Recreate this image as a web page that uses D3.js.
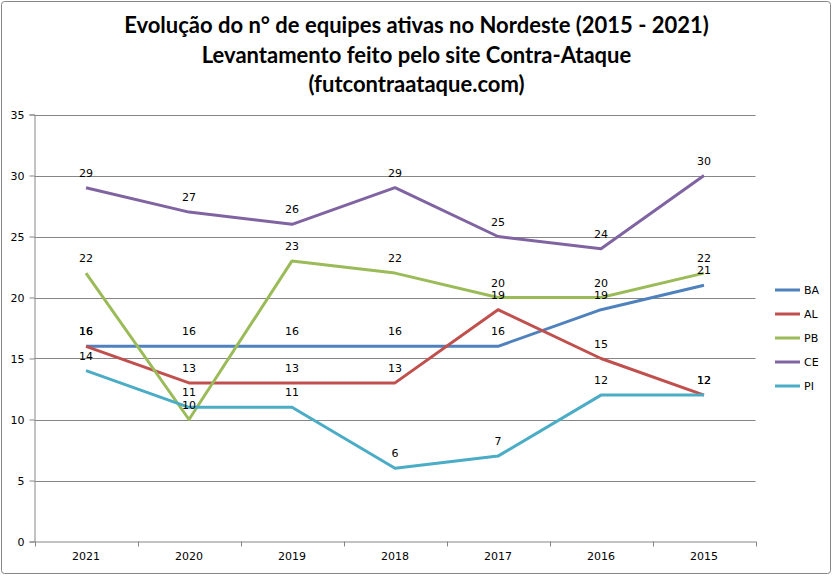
<!DOCTYPE html>
<html><head><meta charset="utf-8">
<script src="https://cdn.jsdelivr.net/npm/d3@7"></script>
<style>body{margin:0;background:#fff}svg{display:block}</style>
</head><body>
<svg id="c" width="833" height="576"></svg>
<script>
const categories = ["2021","2020","2019","2018","2017","2016","2015"];
const seriesNames = ["BA","AL","PB","CE","PI"];
const BA = [16,16,16,16,16,19,21];
const AL = [16,13,13,13,19,15,12];
const PB = [22,10,23,22,20,20,22];
const CE = [29,27,26,29,25,24,30];
const PI = [14,11,11,6,7,12,12];
const yTicks = [0,5,10,15,20,25,30,35];
const titleLines = ["Evolução do n° de equipes ativas no Nordeste (2015 - 2021)","Levantamento feito pelo site Contra-Ataque","(futcontraataque.com)"];
const colors = ["#4F81BD","#C0504D","#9BBB59","#8064A2","#4BACC6"];
const seriesValues = [BA,AL,PB,CE,PI];

const svg = d3.select("#c");
svg.append("rect").attr("x",1.5).attr("y",1.5).attr("width",829).attr("height",572).attr("rx",3)
  .attr("fill","#fff").attr("stroke","#868686").attr("stroke-width",1);

const L=34.5, R=755.5, T=114.5, B=541.5;
const x = d3.scaleBand().domain(categories).range([L,R]);
const y = d3.scaleLinear().domain([0,35]).range([B,T]);

// title
const tg = svg.append("g").attr("font-family","Lato, 'Open Sans', sans-serif").attr("font-weight","bold").attr("font-size",22).attr("text-anchor","middle").attr("fill","#000");
titleLines.forEach((t,i)=>tg.append("text").attr("x",416.5).attr("y",33+i*29.5).text(t));

// gridlines
svg.append("g").selectAll("line").data(yTicks.filter(d=>d>0)).join("line")
  .attr("x1",L).attr("x2",R).attr("y1",d=>Math.round(y(d))+0.5).attr("y2",d=>Math.round(y(d))+0.5)
  .attr("stroke","#868686").attr("stroke-width",1);

// y axis
const ya = svg.append("g").attr("transform",`translate(${L},0)`)
  .call(d3.axisLeft(y).tickValues(yTicks).tickSize(5).tickPadding(5));
ya.select(".domain").attr("stroke","#868686");
ya.selectAll(".tick line").attr("stroke","#868686");
ya.selectAll("text").attr("font-family","Tahoma, 'DejaVu Sans', sans-serif").attr("font-size",11).attr("fill","#000");

// x axis
const xa = svg.append("g").attr("transform",`translate(0,${B})`)
  .call(d3.axisBottom(x).tickSize(0).tickPadding(11));
xa.select(".domain").attr("stroke","#868686");
xa.selectAll("text").attr("font-family","Tahoma, 'DejaVu Sans', sans-serif").attr("font-size",11).attr("fill","#000");
const bounds = categories.map(c=>x(c)).concat([R]);
svg.append("g").selectAll("line").data(bounds).join("line")
  .attr("x1",d=>Math.round(d)+0.5).attr("x2",d=>Math.round(d)+0.5).attr("y1",B).attr("y2",B+5)
  .attr("stroke","#868686");

// lines
const cx = c=>x(c)+x.bandwidth()/2;
const line = d3.line().x((d,i)=>cx(categories[i])).y(d=>y(d));
seriesValues.forEach((vals,si)=>{
  svg.append("path").datum(vals).attr("d",line).attr("fill","none")
    .attr("stroke",colors[si]).attr("stroke-width",3).attr("stroke-linejoin","round");
});
// labels
seriesValues.forEach((vals,si)=>{
  svg.append("g").selectAll("text").data(vals).join("text")
    .attr("x",(d,i)=>cx(categories[i])).attr("y",d=>y(d)-11)
    .attr("text-anchor","middle").attr("font-family","Tahoma, 'DejaVu Sans', sans-serif").attr("font-size",11)
    .attr("fill","#000").text(d=>d);
});

// legend
const lg = svg.append("g");
seriesNames.forEach((n,i)=>{
  const yy = 290 + i*24;
  lg.append("line").attr("x1",775).attr("x2",800).attr("y1",yy).attr("y2",yy).attr("stroke",colors[i]).attr("stroke-width",3);
  lg.append("text").attr("x",804).attr("y",yy+4).attr("font-family","Tahoma, 'DejaVu Sans', sans-serif").attr("font-size",11).attr("fill","#000").text(n);
});
</script>
</body></html>
